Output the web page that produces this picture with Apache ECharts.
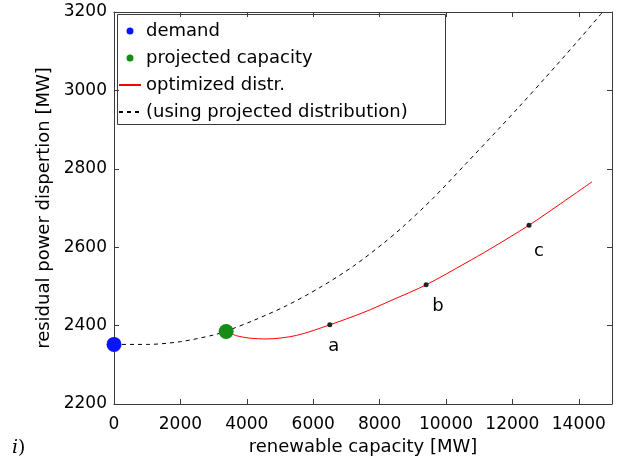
<!DOCTYPE html>
<html>
<head>
<meta charset="utf-8">
<script src="https://cdn.jsdelivr.net/npm/echarts@6/dist/echarts.min.js"></script>
<style>html,body{margin:0;padding:0;background:#fff}#c{width:619px;height:462px}</style>
</head>
<body>
<div id="c"></div>
<script>
// ---- data ----
var demandPoint = [[0, 2352]];
var projectedPoint = [[3378, 2385]];
var dashedX = [0, 1000, 2000, 3000, 3378, 4200, 5200, 6200, 7200, 8100, 8700, 9600, 10600, 11600, 12200, 13000, 14000, 14720];
var dashedY = [2352, 2352, 2359, 2376, 2386, 2413, 2451, 2497, 2551, 2609, 2652, 2724, 2813, 2903, 2958, 3033, 3129, 3200];
var redX = [3378, 3700, 4100, 4600, 5500, 6500, 7500, 8400, 9400, 10600, 11300, 12500, 13400, 14400];
var redY = [2385, 2374, 2368, 2366, 2375, 2402, 2433, 2466, 2504, 2560, 2594, 2656, 2708, 2767];
var markX = [6500, 9400, 12500];
var markY = [2402, 2504, 2656];
var markLabels = ['a', 'b', 'c'];
var xTicks = [0, 2000, 4000, 6000, 8000, 10000, 12000, 14000];
var yTicks = [2200, 2400, 2600, 2800, 3000, 3200];
var legendNames = ['demand', 'projected capacity', 'optimized distr.', '(using projected distribution)'];

function pairs(xs, ys) { return xs.map(function (x, i) { return [x, ys[i]]; }); }
var labelOffsets = [[4, 22], [12, 21], [10, 26]];
var markData = markX.map(function (x, i) {
  return { value: [x, markY[i]], name: markLabels[i],
    label: { offset: labelOffsets[i] } };
});

var FONT = 'DejaVu Sans';
var axisCol = '#3a3a3a';
var chart = echarts.init(document.getElementById('c'), null, { renderer: 'canvas' });
chart.setOption({
  animation: false,
  backgroundColor: '#fff',
  textStyle: { fontFamily: FONT },
  grid: { left: 114, right: 7, top: 12, bottom: 58, containLabel: false },
  xAxis: [{
    type: 'value', min: 0, max: 15000, interval: 2000,
    name: 'renewable capacity [MW]', nameLocation: 'middle', nameGap: 33,
    nameTextStyle: { fontSize: 18, color: '#000', fontFamily: FONT },
    axisLine: { show: true, onZero: false, lineStyle: { color: axisCol, width: 1 } },
    axisTick: { show: true, inside: true, length: 5, lineStyle: { color: axisCol } },
    axisLabel: { fontSize: 17, color: '#000', margin: 12, fontFamily: FONT, showMaxLabel: false,
      formatter: function (v) { return xTicks.indexOf(v) >= 0 ? String(v) : ''; } },
    splitLine: { show: false }
  }, {
    type: 'value', position: 'top', min: 0, max: 15000, interval: 2000,
    axisLine: { show: true, onZero: false, lineStyle: { color: axisCol, width: 1 } },
    axisTick: { show: true, inside: true, length: 5, lineStyle: { color: axisCol } },
    axisLabel: { show: false }, splitLine: { show: false }
  }],
  yAxis: [{
    type: 'value', min: 2200, max: 3200, interval: 200,
    name: 'residual power dispertion [MW]', nameLocation: 'middle', nameGap: 60,
    nameTextStyle: { fontSize: 18, color: '#000', fontFamily: FONT },
    axisLine: { show: true, onZero: false, lineStyle: { color: axisCol, width: 1 } },
    axisTick: { show: true, inside: true, length: 5, lineStyle: { color: axisCol } },
    axisLabel: { fontSize: 17, color: '#000', margin: 7, fontFamily: FONT,
      formatter: function (v) { return yTicks.indexOf(v) >= 0 ? String(v) : ''; } },
    splitLine: { show: false }
  }, {
    type: 'value', position: 'right', min: 2200, max: 3200, interval: 200,
    axisLine: { show: true, onZero: false, lineStyle: { color: axisCol, width: 1 } },
    axisTick: { show: true, inside: true, length: 5, lineStyle: { color: axisCol } },
    axisLabel: { show: false }, splitLine: { show: false }
  }],
  legend: {
    orient: 'vertical', left: 115, top: 12,
    padding: [10, 20, 2, 3],
    itemWidth: 22, itemHeight: 7, itemGap: 9,
    textStyle: { fontSize: 18, color: '#000', fontFamily: FONT, padding: [0, 0, 0, 0] },
    data: [
      { name: legendNames[0], icon: 'circle', itemStyle: { opacity: 1 } },
      { name: legendNames[1], icon: 'circle', itemStyle: { opacity: 1 } },
      { name: legendNames[2], itemStyle: { opacity: 0 } },
      { name: legendNames[3], itemStyle: { opacity: 0 } }
    ],
    selectedMode: false
  },
  graphic: [
    { type: 'rect', left: 115, top: 12, z: 100,
      shape: { width: 328, height: 110 },
      style: { fill: 'none', stroke: axisCol, lineWidth: 1 } },
    { type: 'text', left: 12, top: 439, z: 100,
      style: { text: '{i|i})', rich: { i: { fontFamily: 'DejaVu Serif', fontStyle: 'italic', fontSize: 19, fill: '#000' } },
        fontFamily: 'DejaVu Serif', fontSize: 19, fill: '#000' } }
  ],
  series: [
    { name: legendNames[3], type: 'line', data: pairs(dashedX, dashedY), smooth: 0.3,
      symbol: 'none', clip: true, z: 2,
      lineStyle: { color: '#000', width: 1, type: [4, 4] }, itemStyle: { color: '#000' } },
    { name: legendNames[2], type: 'line', data: pairs(redX, redY), smooth: 0.3,
      symbol: 'none', clip: true, z: 3,
      lineStyle: { color: '#ff0000', width: 1 }, itemStyle: { color: '#ff0000' } },
    { name: 'marks', type: 'scatter', data: markData, symbolSize: 5, z: 5,
      itemStyle: { color: '#222', opacity: 1 },
      label: { show: true, position: 'inside', formatter: '{b}', fontSize: 18, color: '#000', fontFamily: FONT } },
    { name: legendNames[0], type: 'scatter', data: demandPoint, symbolSize: 15, z: 6,
      itemStyle: { color: '#0a14ff', opacity: 1 }, clip: false },
    { name: legendNames[1], type: 'scatter', data: projectedPoint, symbolSize: 15, z: 6,
      itemStyle: { color: '#168c16', opacity: 1 } }
  ]
});
</script>
</body>
</html>
